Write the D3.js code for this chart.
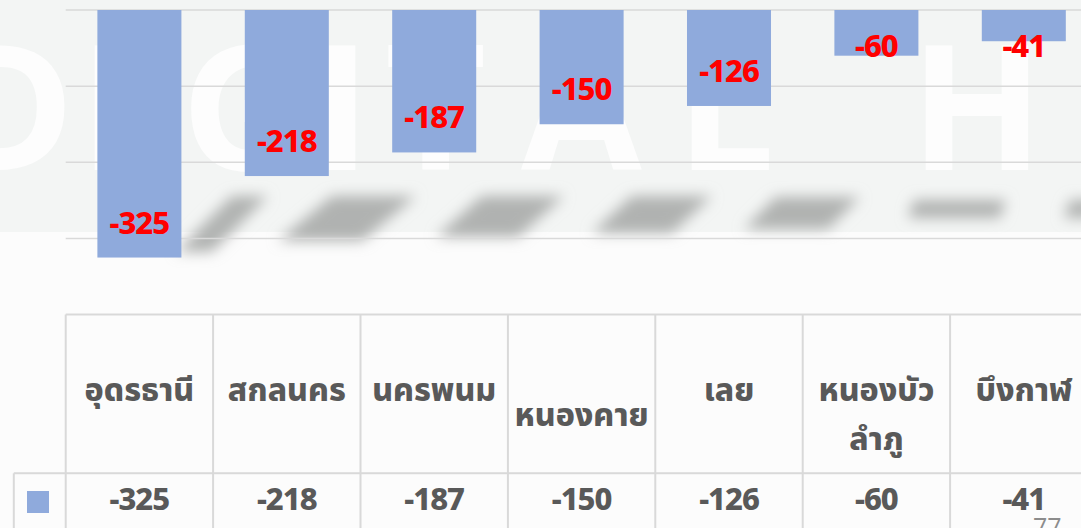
<!DOCTYPE html>
<html>
<head>
<meta charset="utf-8">
<script src="https://cdn.jsdelivr.net/npm/d3@7"></script>
<style>
  html, body { margin: 0; padding: 0; background: #fcfcfc; }
  svg { display: block; }
</style>
</head>
<body>
<svg id="chart" width="1081" height="528"></svg>
<script>
// ---- data ----
const categories = ["อุดรธานี", "สกลนคร", "นครพนม", "หนองคาย", "เลย", "หนองบัวลำภู", "บึงกาฬ"];
const headerLines = [["อุดรธานี", ""], ["สกลนคร", ""], ["นครพนม", ""], ["หนองคาย"], ["เลย", ""], ["หนองบัว", "ลำภู"], ["บึงกาฬ", ""]];
const values = [-325, -218, -187, -150, -126, -60, -41];
const gridTicks = [0, -100, -200, -300];
const watermarkLetters = ["D", "I", "G", "I", "T", "A", "L", "H"];
const pageNumber = "77";

// ---- layout ----
const W = 1081, H = 528;
const svg = d3.select("#chart");
const left = 65.7, step = 147.4;
const thaiFont = "'Noto Sans Thai', 'Noto Sans', 'DejaVu Sans', sans-serif";
const numFont = "'Noto Sans', 'Open Sans', sans-serif";

const x = d3.scaleBand().domain(categories)
  .range([left, left + step * categories.length])
  .paddingInner(0.43).paddingOuter(0.215);
const y = d3.scaleLinear().domain([-300, 0]).range([238.5, 10]);

// background panel
svg.append("rect").attr("x", 0).attr("y", 0).attr("width", W).attr("height", 232).attr("fill", "#f3f5f4");

// watermark letters (decorative background)
const wmX = [-55, 79, 181, 313, 385, 521, 676, 910];
svg.append("g").attr("aria-hidden", "true").selectAll("text").data(watermarkLetters).join("text")
  .attr("x", (d, i) => wmX[i]).attr("y", 170)
  .attr("font-family", "'Open Sans', 'Noto Sans', sans-serif")
  .attr("font-weight", 700)
  .attr("font-size", 175).attr("fill", "#fdfdfd")
  .text(d => d);

// blurred shadows
const defs = svg.append("defs");
defs.append("filter").attr("id", "blur").attr("x", "-50%").attr("y", "-50%").attr("width", "200%").attr("height", "200%")
  .append("feGaussianBlur").attr("stdDeviation", 7);
const shadows = [
  [[176, 252], [232, 196], [268, 196], [212, 252]],
  [[278, 241], [332, 196], [416, 196], [362, 241]],
  [[436, 237], [482, 196], [564, 196], [518, 237]],
  [[592, 233], [632, 196], [712, 196], [672, 233]],
  [[744, 229], [776, 197], [860, 197], [828, 229]],
  [[908, 218], [914, 200], [1006, 200], [1000, 218]],
  [[1064, 218], [1070, 200], [1097, 200], [1091, 218]]
];
svg.append("g").attr("filter", "url(#blur)").selectAll("polygon").data(shadows).join("polygon")
  .attr("points", d => d.map(p => p.join(",")).join(" "))
  .attr("fill", "#b0b2b1");

// gridlines
svg.append("g").selectAll("line").data(gridTicks).join("line")
  .attr("x1", left).attr("x2", W)
  .attr("y1", d => y(d)).attr("y2", d => y(d))
  .attr("stroke", "#d9d9d9").attr("stroke-width", 1.5);

// bars
svg.append("g").selectAll("rect").data(values).join("rect")
  .attr("x", (d, i) => x(categories[i]))
  .attr("y", y(0))
  .attr("width", x.bandwidth())
  .attr("height", d => y(d) - y(0))
  .attr("fill", "#8faadc");

// data labels
svg.append("g").selectAll("text").data(values).join("text")
  .attr("x", (d, i) => x(categories[i]) + x.bandwidth() / 2)
  .attr("y", d => Math.max(y(d) - 24, y(0) + 47))
  .attr("text-anchor", "middle")
  .attr("font-family", numFont).attr("font-weight", 800).attr("font-size", 31)
  .attr("letter-spacing", -1)
  .attr("fill", "#ff0000")
  .text(d => d);

// ---- data table ----
const tTop = 314.5, tMid = 473.3, lineC = "#d9d9d9";
const t = svg.append("g");
t.append("line").attr("x1", left).attr("x2", W).attr("y1", tTop).attr("y2", tTop).attr("stroke", lineC).attr("stroke-width", 2);
t.append("line").attr("x1", 13.8).attr("x2", W).attr("y1", tMid).attr("y2", tMid).attr("stroke", lineC).attr("stroke-width", 2);
t.append("line").attr("x1", 13.8).attr("x2", 13.8).attr("y1", tMid).attr("y2", H).attr("stroke", lineC).attr("stroke-width", 2);
const bounds = categories.map((c, i) => left + i * step).concat([left + categories.length * step]);
t.selectAll(".vl").data(bounds).join("line").attr("class", "vl")
  .attr("x1", d => d).attr("x2", d => d).attr("y1", tTop).attr("y2", H)
  .attr("stroke", lineC).attr("stroke-width", 2);

// header labels
const hCenter = 425.5, lh = 49;
const hg = t.selectAll(".hdr").data(headerLines).join("text").attr("class", "hdr")
  .attr("text-anchor", "middle")
  .attr("font-family", thaiFont).attr("font-weight", 800).attr("font-size", 32)
  .attr("fill", "#595959");
hg.each(function(lines, i) {
  const cx = x(categories[i]) + x.bandwidth() / 2;
  const y0 = hCenter - (lines.length - 1) * lh / 2;
  d3.select(this).selectAll("tspan").data(lines).join("tspan")
    .attr("x", cx).attr("y", (d, j) => y0 + j * lh).text(d => d);
});

// legend key
t.append("rect").attr("x", 27).attr("y", 491).attr("width", 22).attr("height", 22).attr("fill", "#8faadc");

// values row
t.selectAll(".val").data(values).join("text").attr("class", "val")
  .attr("x", (d, i) => x(categories[i]) + x.bandwidth() / 2)
  .attr("y", 510)
  .attr("text-anchor", "middle")
  .attr("font-family", numFont).attr("font-weight", 800).attr("font-size", 31)
  .attr("letter-spacing", -1)
  .attr("fill", "#595959")
  .text(d => d);

// page number
svg.append("text").attr("x", 1033).attr("y", 536)
  .attr("font-family", "'Open Sans', sans-serif").attr("font-size", 25)
  .attr("fill", "#8c8c8c").text(pageNumber);
</script>
</body>
</html>
